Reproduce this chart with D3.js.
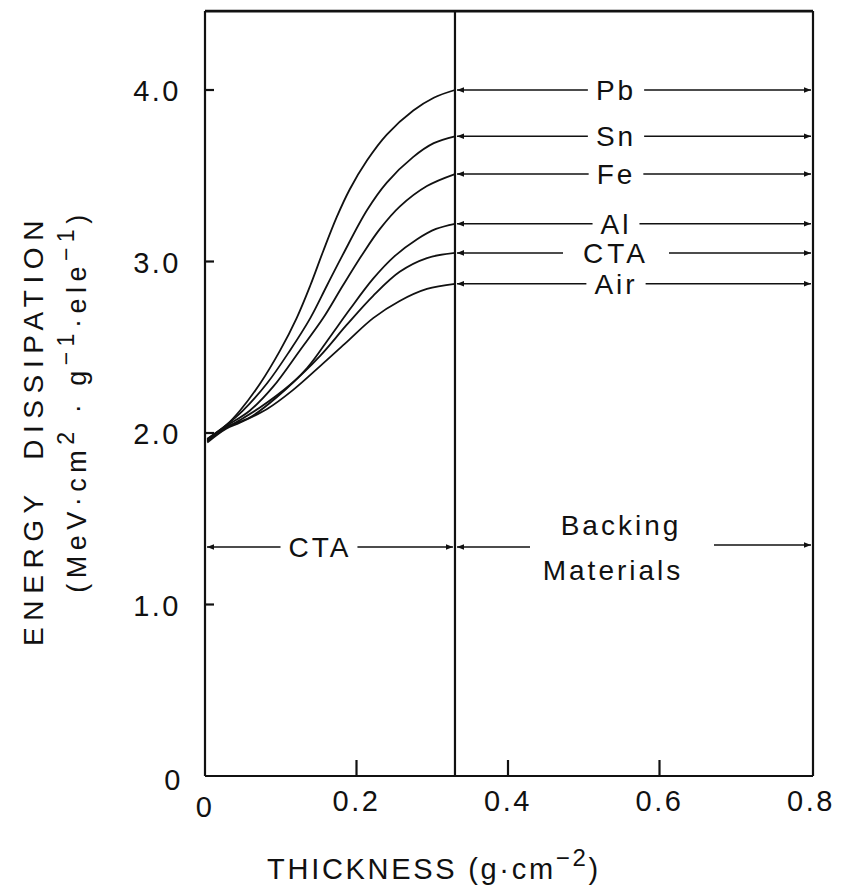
<!DOCTYPE html>
<html>
<head>
<meta charset="utf-8">
<script src="https://cdn.jsdelivr.net/npm/d3@7/dist/d3.min.js"></script>
<style>
  html, body { margin: 0; padding: 0; background: #fff; }
  svg { display: block; }
  text { font-family: "Liberation Sans", Arial, sans-serif; fill: #111; }
</style>
</head>
<body>
<svg id="chart" width="844" height="889"></svg>
<script>
// Energy dissipation through a CTA film followed by a backing material
const materials = ["Pb", "Sn", "Fe", "Al", "CTA", "Air"];

// thickness (g·cm^-2) along the CTA layer
const thicknessPb  = [0.003, 0.029, 0.046, 0.073, 0.099, 0.121, 0.139, 0.156, 0.174, 0.191, 0.214, 0.240, 0.275, 0.302, 0.330];
const energyPb     = [1.965, 2.050, 2.130, 2.290, 2.480, 2.670, 2.860, 3.060, 3.260, 3.420, 3.590, 3.740, 3.880, 3.955, 4.000];

const thicknessSn  = [0.003, 0.028, 0.050, 0.082, 0.112, 0.139, 0.161, 0.182, 0.214, 0.240, 0.275, 0.302, 0.330];
const energySn     = [1.965, 2.045, 2.130, 2.290, 2.480, 2.670, 2.860, 3.040, 3.300, 3.460, 3.610, 3.690, 3.730];

const thicknessFe  = [0.003, 0.028, 0.059, 0.090, 0.125, 0.156, 0.182, 0.209, 0.231, 0.257, 0.293, 0.330];
const energyFe     = [1.960, 2.040, 2.130, 2.270, 2.480, 2.670, 2.860, 3.050, 3.190, 3.320, 3.440, 3.510];

const thicknessAl  = [0.003, 0.028, 0.059, 0.095, 0.135, 0.165, 0.191, 0.222, 0.250, 0.280, 0.305, 0.330];
const energyAl     = [1.955, 2.035, 2.090, 2.210, 2.380, 2.560, 2.720, 2.900, 3.030, 3.130, 3.190, 3.220];

const thicknessCTA = [0.003, 0.028, 0.046, 0.073, 0.112, 0.152, 0.187, 0.222, 0.257, 0.293, 0.330];
const energyCTA    = [1.950, 2.030, 2.075, 2.150, 2.280, 2.450, 2.630, 2.800, 2.940, 3.020, 3.050];

const thicknessAir = [0.003, 0.028, 0.046, 0.082, 0.116, 0.152, 0.187, 0.222, 0.257, 0.293, 0.330];
const energyAir    = [1.945, 2.025, 2.060, 2.140, 2.250, 2.390, 2.530, 2.670, 2.770, 2.840, 2.870];

// value reached at the CTA / backing interface for each material
const interfaceValues = [4.00, 3.73, 3.51, 3.22, 3.05, 2.87];

const xTickValues = [0, 0.2, 0.4, 0.6, 0.8];
const xTickLabels = ["0", "0.2", "0.4", "0.6", "0.8"];
const yTickValues = [0, 1.0, 2.0, 3.0, 4.0];
const yTickLabels = ["0", "1.0", "2.0", "3.0", "4.0"];

const ctaThickness = 0.33;
const xMax = 0.8;
const yTop = 4.46;

const svg = d3.select("#chart");

const x = d3.scaleLinear().domain([0, 0.8]).range([205, 811]);
const y = d3.scaleLinear().domain([0, 4]).range([776, 90]);

const series = [
  { name: "Pb",  xs: thicknessPb,  ys: energyPb },
  { name: "Sn",  xs: thicknessSn,  ys: energySn },
  { name: "Fe",  xs: thicknessFe,  ys: energyFe },
  { name: "Al",  xs: thicknessAl,  ys: energyAl },
  { name: "CTA", xs: thicknessCTA, ys: energyCTA },
  { name: "Air", xs: thicknessAir, ys: energyAir }
];

// arrow markers
const defs = svg.append("defs");
defs.append("marker")
  .attr("id", "arrowEnd").attr("viewBox", "0 0 10 10")
  .attr("refX", 10).attr("refY", 5)
  .attr("markerWidth", 10).attr("markerHeight", 7)
  .attr("markerUnits", "userSpaceOnUse").attr("orient", "auto")
  .append("path").attr("d", "M0,1 L10,5 L0,9 Z").attr("fill", "#111");

// frame
const frame = svg.append("g").attr("fill", "none").attr("stroke", "#111").attr("stroke-width", 2.2);
frame.append("line").attr("x1", x(0)).attr("x2", x(0)).attr("y1", y(0)).attr("y2", y(yTop));
frame.append("line").attr("x1", x(0)).attr("x2", x(xMax) + 2).attr("y1", y(yTop)).attr("y2", y(yTop))
  .attr("stroke-width", 2.6);
frame.append("line").attr("x1", x(xMax) + 2).attr("x2", x(xMax) + 2).attr("y1", y(yTop)).attr("y2", y(0));
frame.append("line").attr("x1", x(0)).attr("x2", x(xMax) + 2).attr("y1", y(0)).attr("y2", y(0));
frame.append("line").attr("x1", x(ctaThickness)).attr("x2", x(ctaThickness)).attr("y1", y(yTop)).attr("y2", y(0));

// inward ticks
frame.selectAll(".yt").data(yTickValues.filter(v => v > 0)).join("line")
  .attr("x1", x(0)).attr("x2", x(0) + 9)
  .attr("y1", d => y(d)).attr("y2", d => y(d));
frame.selectAll(".xt").data(xTickValues.filter(v => v > 0 && v < xMax)).join("line")
  .attr("x1", d => x(d)).attr("x2", d => x(d))
  .attr("y1", y(0)).attr("y2", y(0) - 16);

// tick labels
svg.append("g").selectAll("text").data(yTickValues).join("text")
  .attr("x", d => d === 0 ? 183 : 181)
  .attr("y", d => d === 0 ? y(d) + 14 : y(d) + 11)
  .attr("text-anchor", "end")
  .attr("font-size", 29).attr("letter-spacing", 2.5)
  .text((d, i) => yTickLabels[i]);

svg.append("g").selectAll("text").data(xTickValues).join("text")
  .attr("x", d => x(d))
  .attr("y", d => d === 0 ? 817 : 811)
  .attr("text-anchor", "middle")
  .attr("font-size", 29).attr("letter-spacing", 2.5)
  .text((d, i) => xTickLabels[i]);

// curves through the CTA layer
const line = d3.line().curve(d3.curveCatmullRom.alpha(0.5)).x(d => x(d[0])).y(d => y(d[1]));
svg.append("g").attr("fill", "none").attr("stroke", "#111").attr("stroke-width", 1.8)
  .selectAll("path").data(series).join("path")
  .attr("d", s => line(s.xs.map((v, i) => [v, s.ys[i]])));

// material labels with two-way arrows across the backing region
const labelCenter = 616;
const labelGroup = svg.append("g");
materials.forEach((m, i) => {
  const yy = y(interfaceValues[i]);
  const t = labelGroup.append("text")
    .attr("x", labelCenter).attr("y", yy + 10)
    .attr("text-anchor", "middle")
    .attr("font-size", 28).attr("letter-spacing", m === "CTA" ? 4 : 3)
    .text(m);
  const bb = t.node().getBBox();
  const pad = m === "CTA" ? 20 : 8;
  labelGroup.append("line")
    .attr("x1", bb.x - pad).attr("x2", x(ctaThickness) + 2)
    .attr("y1", yy).attr("y2", yy)
    .attr("stroke", "#111").attr("stroke-width", 1.5)
    .attr("marker-end", "url(#arrowEnd)");
  labelGroup.append("line")
    .attr("x1", bb.x + bb.width + pad).attr("x2", x(xMax))
    .attr("y1", yy).attr("y2", yy)
    .attr("stroke", "#111").attr("stroke-width", 1.5)
    .attr("marker-end", "url(#arrowEnd)");
});

// region annotations
const regionY = 547;
const ctaText = svg.append("text")
  .attr("x", (x(0) + x(ctaThickness)) / 2 - 10).attr("y", regionY + 10)
  .attr("text-anchor", "middle").attr("font-size", 28).attr("letter-spacing", 3)
  .text("CTA");
const cb = ctaText.node().getBBox();
svg.append("line").attr("x1", cb.x - 8).attr("x2", x(0) + 2).attr("y1", regionY).attr("y2", regionY)
  .attr("stroke", "#111").attr("stroke-width", 1.5).attr("marker-end", "url(#arrowEnd)");
svg.append("line").attr("x1", cb.x + cb.width + 6).attr("x2", x(ctaThickness) - 2).attr("y1", regionY).attr("y2", regionY)
  .attr("stroke", "#111").attr("stroke-width", 1.5).attr("marker-end", "url(#arrowEnd)");

svg.append("text").attr("x", 621).attr("y", 535)
  .attr("text-anchor", "middle").attr("font-size", 28).attr("letter-spacing", 3)
  .text("Backing");
svg.append("text").attr("x", 613).attr("y", 580)
  .attr("text-anchor", "middle").attr("font-size", 28).attr("letter-spacing", 3)
  .text("Materials");
svg.append("line").attr("x1", 530).attr("x2", x(ctaThickness) + 2).attr("y1", regionY).attr("y2", regionY)
  .attr("stroke", "#111").attr("stroke-width", 1.5).attr("marker-end", "url(#arrowEnd)");
svg.append("line").attr("x1", 714).attr("x2", x(xMax)).attr("y1", regionY - 2).attr("y2", regionY - 2)
  .attr("stroke", "#111").attr("stroke-width", 1.5).attr("marker-end", "url(#arrowEnd)");

// axis titles
const xt = svg.append("text").attr("x", 434).attr("y", 879)
  .attr("text-anchor", "middle").attr("font-size", 29).attr("letter-spacing", 2.7);
xt.append("tspan").text("THICKNESS (g·cm");
xt.append("tspan").attr("dy", -13).attr("font-size", 24).text("−2");
xt.append("tspan").attr("dy", 13).text(")");

svg.append("text").attr("transform", "translate(43,430) rotate(-90)")
  .attr("text-anchor", "middle").attr("font-size", 28).attr("letter-spacing", 6.6)
  .attr("xml:space", "preserve")
  .text("ENERGY  DISSIPATION");

const yt2 = svg.append("text").attr("transform", "translate(86,401) rotate(-90)")
  .attr("text-anchor", "middle").attr("font-size", 27).attr("letter-spacing", 5.5);
yt2.append("tspan").text("(MeV·cm");
yt2.append("tspan").attr("dy", -12).attr("font-size", 23).text("2");
yt2.append("tspan").attr("dy", 12).text(" · g");
yt2.append("tspan").attr("dy", -12).attr("font-size", 23).text("−1");
yt2.append("tspan").attr("dy", 12).text("·ele");
yt2.append("tspan").attr("dy", -12).attr("font-size", 23).text("−1");
yt2.append("tspan").attr("dy", 12).text(")");
</script>
</body>
</html>
